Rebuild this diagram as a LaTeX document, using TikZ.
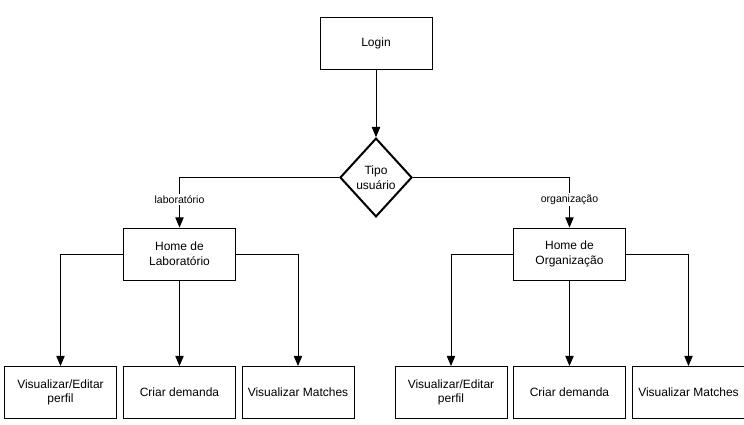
\documentclass[tikz,border=0pt]{standalone}
\usepackage{fontspec}
\setmainfont{Liberation Sans}
\usepackage{tikz}
\usetikzlibrary{shapes,positioning,arrows}
\tikzset {
tela/.style={shape=rectangle,draw,fill=white,align=center,line width=0.75pt,minimum width=84pt,minimum height=39pt,font=\fontsize{9}{11}\selectfont},
escolha/.style={shape=diamond,draw,fill=white,align=center,line width=1.5pt,inner sep=0pt,minimum width=54pt,minimum height=59pt,font=\fontsize{9}{11}\selectfont},
rotulo/.style={fill=white,inner sep=1pt,font=\fontsize{7.9}{9}\selectfont}
}

\begin{document}
\begin{tikzpicture}
[>=triangle 45,x=0.75pt,y=-0.75pt,line width=0.75pt]
\useasboundingbox (0,0) rectangle (744,425);
\node[tela] (login) at (376,43.5) {Login};
\node[escolha] (tipo) at (376,177.5) {Tipo\\usuário};
\node[tela] (home lab) at (179.5,254) {Home de\\Laboratório};
\node[tela] (home org) at (569.5,254) {Home de\\Organização};
\node[tela] (lab perfil) at (60.5,392.5) {Visualizar/Editar\\perfil};
\node[tela] (lab demanda) at (179.5,392.5) {Criar demanda};
\node[tela] (lab matches) at (298,392.5) {Visualizar Matches};
\node[tela] (org perfil) at (451,392.5) {Visualizar/Editar\\perfil};
\node[tela] (org demanda) at (569.5,392.5) {Criar demanda};
\node[tela] (org matches) at (688.5,392.5) {Visualizar Matches};

\draw[->] (login) to (tipo);
\draw[->] (tipo.west) -| node[rotulo,pos=0.72] {laboratório} (home lab.north);
\draw[->] (tipo.east) -| node[rotulo,pos=0.72] {organização} (home org.north);
\draw[->] (home lab.west) -| (lab perfil.north);
\draw[->] (home lab) to (lab demanda);
\draw[->] (home lab.east) -| (lab matches.north);
\draw[->] (home org.west) -| (org perfil.north);
\draw[->] (home org) to (org demanda);
\draw[->] (home org.east) -| (org matches.north);
\end{tikzpicture}
\end{document}
